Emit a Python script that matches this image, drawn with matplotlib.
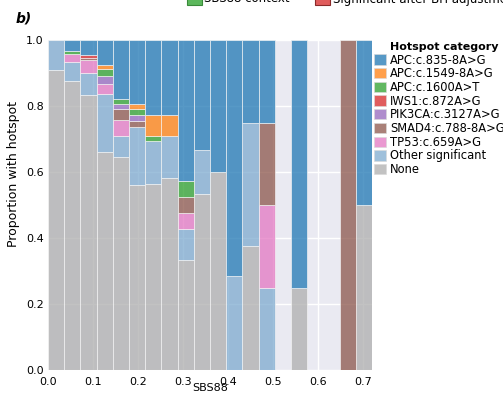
import numpy as np
import matplotlib
matplotlib.use("Agg")
import matplotlib.pyplot as plt
from matplotlib.patches import Patch, Rectangle

# SBS88 bins (20 equal-width bins over 0 - 0.72)
bin_edges = np.linspace(0.0, 0.72, 21)

# Hotspot categories, listed top of stack first
categories = [
    "APC:c.835-8A>G",
    "APC:c.1549-8A>G",
    "APC:c.1600A>T",
    "IWS1:c.872A>G",
    "PIK3CA:c.3127A>G",
    "SMAD4:c.788-8A>G",
    "TP53:c.659A>G",
    "Other significant",
    "None",
]
colors = ["#1f77b4", "#ff7f0e", "#2ca02c", "#d62728", "#9467bd",
          "#8c564b", "#e377c2", "#7eabcf", "#aeaeae"]

# Sample counts per SBS88 bin for each category
apc_835 = [0, 4, 7, 7, 11, 11, 14, 7, 9, 5, 2, 5, 2, 1, 0, 3, 0, 0, 0, 1]
apc_1549 = [0, 0, 0, 1, 0, 1, 4, 2, 0, 0, 0, 0, 0, 0, 0, 0, 0, 0, 0, 0]
apc_1600 = [0, 1, 0, 2, 1, 1, 1, 0, 1, 0, 0, 0, 0, 0, 0, 0, 0, 0, 0, 0]
iws1 = [0, 0, 1, 0, 0, 0, 0, 0, 0, 0, 0, 0, 0, 0, 0, 0, 0, 0, 0, 0]
pik3ca = [0, 0, 0, 2, 1, 1, 0, 0, 0, 0, 0, 0, 0, 0, 0, 0, 0, 0, 0, 0]
smad4 = [0, 0, 1, 0, 2, 1, 0, 0, 1, 0, 0, 0, 0, 1, 0, 0, 0, 0, 1, 0]
tp53 = [0, 3, 6, 3, 3, 0, 0, 0, 1, 0, 0, 0, 0, 1, 0, 0, 0, 0, 0, 0]
other_sig = [1, 7, 10, 16, 4, 10, 8, 4, 2, 2, 0, 2, 3, 1, 0, 0, 0, 0, 0, 0]
none = [10, 105, 125, 60, 40, 32, 35, 18, 7, 8, 3, 0, 3, 0, 0, 1, 0, 0, 0, 1]

series = [apc_835, apc_1549, apc_1600, iws1, pik3ca, smad4, tp53, other_sig, none]

x_ticks = [0.0, 0.1, 0.2, 0.3, 0.4, 0.5, 0.6, 0.7]
y_ticks = [0.0, 0.2, 0.4, 0.6, 0.8, 1.0]

plt.rcParams["font.family"] = ["DejaVu Sans"]

fig = plt.figure(figsize=(5.03, 3.94), dpi=100)
ax = fig.add_axes([48 / 503, 24 / 394, 324 / 503, 330 / 394])
ax.set_facecolor("#EAEAF2")
for s in ax.spines.values():
    s.set_visible(False)
ax.grid(True, color="white", linewidth=1.0)
ax.set_axisbelow(True)

counts = np.array(series, dtype=float)
totals = counts.sum(axis=0)
safe = np.where(totals > 0, totals, 1)
props = counts / safe

lefts = bin_edges[:-1]
width = np.diff(bin_edges)
bottom = np.zeros(len(lefts))
alpha = 0.75
# stack from the bottom category upward
for idx in range(len(categories) - 1, -1, -1):
    h = props[idx]
    mask = h > 0
    ax.bar(lefts[mask], h[mask], width=width[mask], bottom=bottom[mask],
           align="edge", color=colors[idx], alpha=alpha,
           edgecolor=(0.96, 0.96, 0.96), linewidth=0.6)
    bottom = bottom + h

ax.set_xlim(0, 0.72)
ax.set_ylim(0, 1)
ax.set_xticks(x_ticks)
ax.set_yticks(y_ticks)
ax.set_xticklabels([f"{v:.1f}" for v in x_ticks])
ax.set_yticklabels([f"{v:.1f}" for v in y_ticks])
ax.tick_params(axis="x", length=0, labelsize=8, colors="black", pad=5)
ax.tick_params(axis="y", length=0, labelsize=8, colors="black", pad=3)
ax.set_xlabel("SBS88", fontsize=8)
ax.xaxis.set_label_coords(0.5, -0.038)
ax.set_ylabel("Proportion with hotspot", fontsize=9)
ax.yaxis.set_label_coords(-0.085, 0.595)

# category legend on the right
fig.text(390 / 503, 1 - 47 / 394, "Hotspot category", fontsize=8,
         fontweight="bold", va="center", ha="left")
handles = [Patch(facecolor=c, alpha=alpha, edgecolor=(0.85, 0.85, 0.85), linewidth=0.6)
           for c in colors]
leg = fig.legend(handles, categories, loc="upper left",
                 bbox_to_anchor=(374 / 503, 1 - 53.5 / 394),
                 frameon=False, fontsize=8.3,
                 borderpad=0, borderaxespad=0,
                 handlelength=1.0, handleheight=1.0, handletextpad=0.4,
                 labelspacing=0.06)

# panel letter
fig.text(16 / 503, 1 - 19 / 394, "b)", fontsize=10, fontweight="bold",
         fontstyle="italic", va="center", ha="left")

# shared figure legend running off the top edge
fig.patches.append(Rectangle((187 / 503, 1 - 5 / 394), 15 / 503, 0.05,
                             transform=fig.transFigure, facecolor="#5cb85c",
                             edgecolor="#3a8a3a", linewidth=0.8))
fig.text(204 / 503, 1 + 1 / 394, "SBS88 context", fontsize=8.5,
         va="center", ha="left")
fig.patches.append(Rectangle((315 / 503, 1 - 5 / 394), 15 / 503, 0.05,
                             transform=fig.transFigure, facecolor="#e05c5c",
                             edgecolor="#8a2a2a", linewidth=0.8))
fig.text(333 / 503, 1 + 1 / 394, "Significant after BH adjustment", fontsize=8.5,
         va="center", ha="left")

fig.savefig("out.png", dpi=100)
